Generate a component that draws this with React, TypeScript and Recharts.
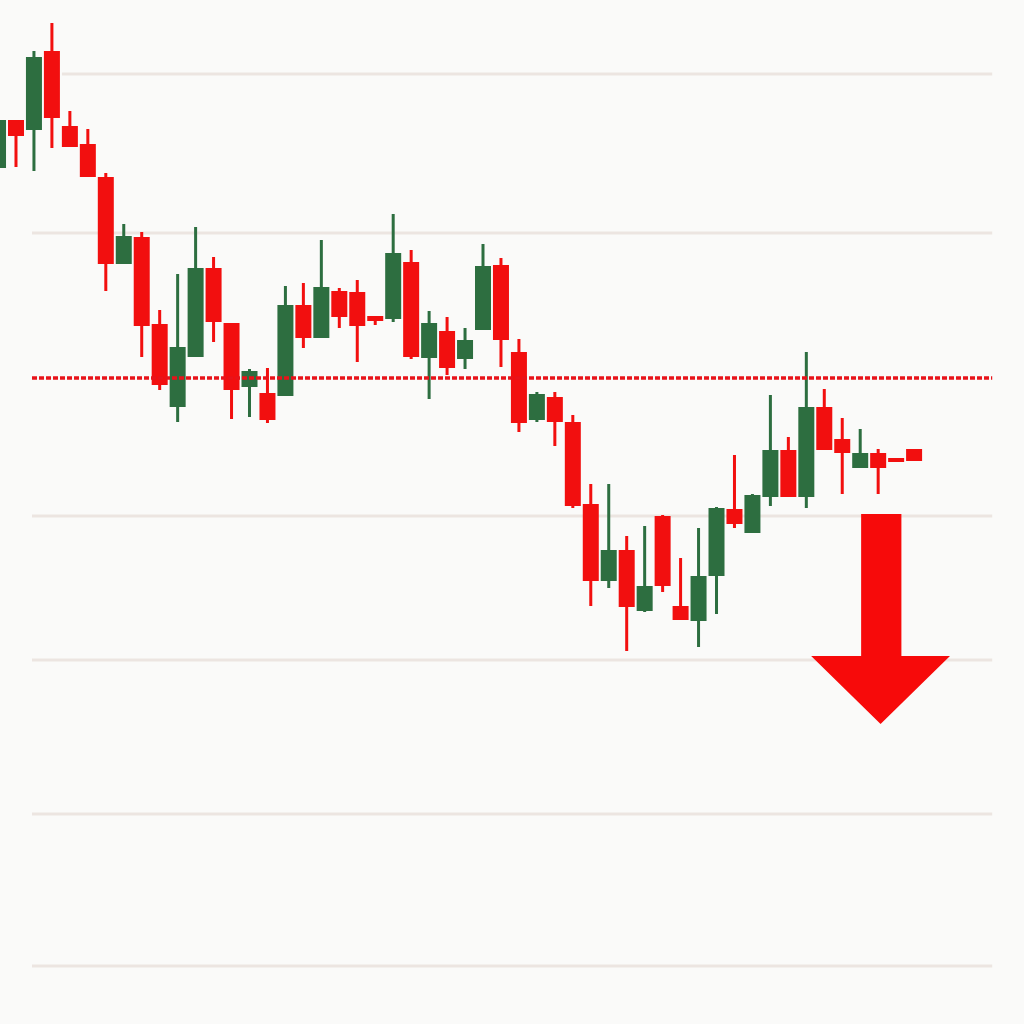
import React from "react";
import {
  ComposedChart,
  Bar,
  XAxis,
  YAxis,
  ReferenceLine,
  ReferenceArea,
} from "recharts";

// OHLC, one entry per candle (left to right)
const opens = [
  62.8, 65.2, 64.7, 68.65, 64.9, 64.0, 62.35, 58.0, 59.35, 55.0,
  50.85, 53.35, 57.8, 55.05, 51.85, 51.55, 51.4, 55.95, 54.3, 56.65,
  56.6, 55.4, 55.25, 58.1, 53.3, 54.65, 53.25, 54.7, 57.95, 53.6,
  50.2, 51.35, 50.1, 46.0, 42.15, 43.7, 40.65, 45.4, 40.9, 40.15,
  42.4, 45.75, 44.55, 46.35, 48.7, 46.35, 50.85, 49.25, 47.8, 48.55,
  48.3, 48.75,
];
const highs = [
  65.55, 65.2, 68.65, 70.05, 65.65, 64.75, 62.55, 60.0, 59.6, 55.7,
  57.5, 59.85, 58.35, 55.05, 52.75, 52.8, 56.9, 57.05, 59.2, 56.8,
  57.2, 55.4, 60.5, 58.7, 55.65, 55.35, 54.8, 59.0, 58.3, 54.25,
  51.6, 51.6, 50.45, 47.0, 47.0, 44.4, 44.9, 45.45, 43.3, 44.8,
  45.85, 48.45, 46.5, 51.45, 49.35, 53.6, 51.75, 50.3, 49.75, 48.75,
  48.3, 48.75,
];
const lows = [
  62.7, 62.85, 62.65, 63.8, 63.85, 62.35, 56.65, 58.0, 53.35, 51.7,
  50.1, 53.35, 54.1, 50.25, 50.35, 50.05, 51.4, 53.8, 54.3, 54.8,
  53.1, 54.95, 55.1, 53.25, 51.25, 52.45, 52.75, 54.7, 52.85, 49.6,
  50.1, 48.9, 45.8, 40.9, 41.8, 38.65, 40.6, 41.6, 40.2, 38.85,
  40.5, 44.8, 44.55, 45.9, 46.35, 45.8, 48.7, 46.5, 47.8, 46.5,
  48.1, 48.15,
];
const closes = [
  65.2, 64.4, 68.35, 65.3, 63.85, 62.35, 58.0, 59.4, 54.9, 51.95,
  53.85, 57.8, 55.1, 51.7, 52.65, 50.2, 55.95, 54.3, 56.85, 55.35,
  54.9, 55.15, 58.55, 53.35, 55.05, 52.8, 54.2, 57.9, 54.2, 50.05,
  51.5, 50.1, 45.9, 42.15, 43.7, 40.85, 41.9, 41.9, 40.2, 42.4,
  45.8, 45.0, 46.45, 48.7, 46.35, 50.85, 48.7, 48.55, 48.55, 47.8,
  48.1, 48.15,
];

// horizontal guide levels and the dashed resistance level
const gridLevels = [67.5, 59.55, 45.4, 38.2, 30.5, 22.9];
const resistance = 52.3;

// down arrow annotation: [from price, to price], [left index, right index]
const arrowPrices = [45.5, 35.0];
const arrowSpan = [45.27, 53.0];

const candles = opens.map((o, i) => ({
  i,
  open: o,
  high: highs[i],
  low: lows[i],
  close: closes[i],
}));

const UP = "#2d6e40";
const DOWN = "#f20f0f";
const X_DOMAIN = [0.111, 57.12];
const Y_DOMAIN = [20, 71.2];
const SIZE = 1024;
const MARGIN = { top: 0, right: 0, bottom: 0, left: 0 };

function Candle(props: any) {
  const { x, y, width, height, payload } = props;
  if (!payload) return null;
  const top = Math.min(y, y + height);
  const span = Math.abs(height);
  const range = payload.high - payload.low || 1;
  const k = span / range;
  const up = payload.close >= payload.open;
  const color = up ? UP : DOWN;
  const bodyTop = top + (payload.high - Math.max(payload.open, payload.close)) * k;
  const bodyH = Math.max(2, Math.abs(payload.open - payload.close) * k);
  const cx = x + width / 2;
  return (
    <g>
      <rect x={cx - 1.5} y={top} width={3} height={span} fill={color} />
      <rect x={x} y={bodyTop} width={width} height={bodyH} fill={color} />
    </g>
  );
}

function Arrow(props: any) {
  const { x, y, width, height } = props;
  const shaftL = x + width * 0.36;
  const shaftR = x + width * 0.65;
  const headY = y + height * 0.676;
  const tipX = x + width * 0.5;
  const pts = [
    [shaftL, y],
    [shaftR, y],
    [shaftR, headY],
    [x + width, headY],
    [tipX, y + height],
    [x, headY],
    [shaftL, headY],
  ]
    .map((p) => p.join(","))
    .join(" ");
  return <polygon points={pts} fill="#f70a0a" />;
}

const layer: React.CSSProperties = { position: "absolute", left: 0, top: 0 };

export default function App() {
  return (
    <div
      style={{
        position: "absolute",
        left: 0,
        top: 0,
        width: SIZE,
        height: SIZE,
        background: "#fafaf9",
        overflow: "hidden",
      }}
    >
      {/* background guides, drawn behind the candles */}
      <div style={layer}>
        <ComposedChart width={SIZE} height={SIZE} data={candles} margin={MARGIN}>
          <XAxis type="number" dataKey="i" domain={X_DOMAIN} allowDataOverflow hide />
          <YAxis type="number" domain={Y_DOMAIN} allowDataOverflow hide />
          {gridLevels.map((lvl, idx) => (
            <ReferenceLine
              key={lvl}
              segment={[
                { x: idx === 0 ? 3.56 : 1.893, y: lvl },
                { x: 55.35, y: lvl },
              ]}
              stroke="#ece5e1"
              strokeWidth={3}
            />
          ))}
        </ComposedChart>
      </div>
      <div style={layer}>
        <ComposedChart width={SIZE} height={SIZE} data={candles} margin={MARGIN}>
          <XAxis type="number" dataKey="i" domain={X_DOMAIN} allowDataOverflow hide />
          <YAxis type="number" domain={Y_DOMAIN} allowDataOverflow hide />
          <Bar
            dataKey={(d: any) => [d.low, d.high]}
            barSize={16}
            shape={<Candle />}
            isAnimationActive={false}
          />
          <ReferenceLine
            segment={[
              { x: 1.893, y: resistance },
              { x: 55.35, y: resistance },
            ]}
            stroke="#e8131a"
            strokeWidth={3.5}
            strokeDasharray="5 2"
          />
          <ReferenceArea
            x1={arrowSpan[0]}
            x2={arrowSpan[1]}
            y1={arrowPrices[1]}
            y2={arrowPrices[0]}
            shape={<Arrow />}
          />
        </ComposedChart>
      </div>
    </div>
  );
}
